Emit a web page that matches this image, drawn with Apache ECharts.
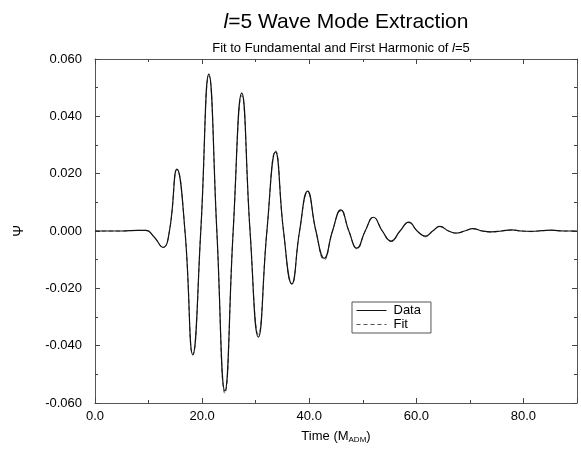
<!DOCTYPE html>
<html>
<head>
<meta charset="utf-8">
<script src="https://cdn.jsdelivr.net/npm/echarts@6/dist/echarts.min.js"></script>
<style>html,body{margin:0;padding:0;background:#fff}#c{width:581px;height:449px}</style>
</head>
<body>
<div id="c"></div>
<script>
// Time samples (M_ADM)
const time = [0, 5, 8, 9.5, 11, 12.7, 13.9, 15.3, 16.8, 18.25, 19.75, 21.25, 22.75, 24.25, 25.8, 27.4, 28.95, 30.5, 32.1, 33.7, 35.2, 36.75, 38.2, 39.7, 41.25, 42.8, 44.35, 45.9, 47.4, 48.9, 50.45, 52.0, 53.65, 55.3, 56.95, 58.6, 60.15, 61.7, 63.05, 64.4, 66.0, 67.5, 69.0, 70.6, 72.3, 74.0, 75.9, 77.8, 79.6, 81.5, 83.4, 85.3, 87.5, 90];
// Psi, numerical data
const dataVals = [0, 0, 0.0002, 0.0002, -0.002, -0.0057, 0, 0.0216, 0, -0.0431, 0, 0.0547, 0, -0.0558, 0, 0.0481, 0, -0.0370, 0, 0.0276, 0, -0.0184, 0, 0.0139, 0, -0.0095, 0, 0.0074, 0, -0.0060, 0, 0.0048, 0, -0.0035, 0, 0.0031, 0, -0.0018, 0, 0.0016, 0, -0.0007, 0, 0.0008, 0, -0.0003, 0, 0.0004, 0, -0.0001, 0.0001, 0.0003, 0, 0];
// Psi, fitted modes
const fitVals = [0, 0, 0.0002, 0.0002, -0.002, -0.0057, 0, 0.0214, 0, -0.0433, 0, 0.0541, 0, -0.0566, 0, 0.0472, 0, -0.0360, 0, 0.0280, 0, -0.0186, 0, 0.0134, 0, -0.0101, 0, 0.0070, 0, -0.0062, 0, 0.0047, 0, -0.0037, 0, 0.0029, 0, -0.0020, 0, 0.0015, 0, -0.0008, 0, 0.0007, 0, -0.0004, 0, 0.0003, 0, -0.0002, 0.0001, 0.0002, 0, 0];
const xTicks = [0, 20, 40, 60, 80];
const yTicks = [-0.06, -0.04, -0.02, 0, 0.02, 0.04, 0.06];

const FONT = 'Liberation Sans, Arial, Helvetica, sans-serif';
const chart = echarts.init(document.getElementById('c'), null, {renderer: 'canvas'});
const axisLine = {show: true, onZero: false, lineStyle: {color: '#555', width: 1}};
const xBase = {
  type: 'value', min: 0, max: 90, interval: 20,
  axisLine: axisLine,
  axisTick: {show: true, inside: true, length: 5, lineStyle: {color: '#444'}},
  minorTick: {show: true, splitNumber: 2, length: 3, lineStyle: {color: '#444'}},
  splitLine: {show: false}
};
const yBase = {
  type: 'value', min: -0.06, max: 0.06, interval: 0.02,
  axisLine: axisLine,
  axisTick: {show: true, inside: true, length: 5, lineStyle: {color: '#444'}},
  minorTick: {show: true, splitNumber: 2, length: 3, lineStyle: {color: '#444'}},
  splitLine: {show: false}
};
const pairs = (ys) => time.map((t, i) => [t, ys[i]]);

chart.setOption({
  animation: false,
  backgroundColor: '#fff',
  textStyle: {fontFamily: FONT},
  title: [
    {
      text: '{i|l}{n|=5 Wave Mode Extraction}',
      left: 341, top: 7, textAlign: 'center',
      textStyle: {fontWeight: 'normal', rich: {
        i: {fontFamily: FONT, fontStyle: 'italic', fontWeight: 'normal', fontSize: 21, color: '#000'},
        n: {fontFamily: FONT, fontWeight: 'normal', fontSize: 21, color: '#000'}
      }}
    },
    {
      text: '{n|Fit to Fundamental and First Harmonic of }{i|l}{n|=5}',
      left: 336, top: 37, textAlign: 'center',
      textStyle: {fontWeight: 'normal', rich: {
        i: {fontFamily: FONT, fontStyle: 'italic', fontWeight: 'normal', fontSize: 13, color: '#000'},
        n: {fontFamily: FONT, fontWeight: 'normal', fontSize: 13, color: '#000'}
      }}
    }
  ],
  grid: {left: 95, right: 4, top: 59, bottom: 40, containLabel: false},
  legend: {
    left: 352, top: 302, orient: 'vertical',
    backgroundColor: '#fff', borderColor: '#555', borderWidth: 1,
    padding: [2, 10, 2, 4], itemGap: 1, itemWidth: 30, itemHeight: 14,
    itemStyle: {opacity: 0},
    lineStyle: {width: 1},
    textStyle: {fontFamily: FONT, fontSize: 13, color: '#000', padding: [0, 0, 0, 2]},
    data: ['Data', 'Fit']
  },
  xAxis: [
    Object.assign({}, xBase, {
      position: 'bottom',
      axisLabel: {show: true, color: '#000', fontSize: 13, fontFamily: FONT, margin: 7,
        formatter: v => xTicks.includes(v) ? v.toFixed(1) : ''},
      name: '{n|Time (M}{s|ADM}{n|)}', nameLocation: 'middle', nameGap: 26,
      nameTextStyle: {rich: {
        n: {fontFamily: FONT, fontSize: 13, color: '#000'},
        s: {fontFamily: FONT, fontSize: 8, color: '#000', padding: [7, 0, 0, 0]}
      }}
    }),
    Object.assign({}, xBase, {position: 'top', axisLabel: {show: false}})
  ],
  yAxis: [
    Object.assign({}, yBase, {
      position: 'left',
      axisLabel: {show: true, color: '#000', fontSize: 13, fontFamily: FONT, margin: 13,
        formatter: v => {
          const r = Math.round(v * 1000) / 1000;
          return yTicks.some(t => Math.abs(t - r) < 1e-9) ? (r === 0 ? '0.000' : r.toFixed(3)) : '';
        }},
      name: 'Ψ', nameLocation: 'middle', nameGap: 69, nameRotate: 90,
      nameTextStyle: {fontFamily: FONT, fontSize: 14, color: '#000'}
    }),
    Object.assign({}, yBase, {position: 'right', axisLabel: {show: false}})
  ],
  series: [
    {
      name: 'Data', type: 'line', data: pairs(dataVals), smooth: 0.5,
      showSymbol: false, symbol: 'none',
      lineStyle: {color: '#111', width: 1.2, type: 'solid'}, itemStyle: {color: '#111'}, z: 3
    },
    {
      name: 'Fit', type: 'line', data: pairs(fitVals), smooth: 0.5,
      showSymbol: false, symbol: 'none',
      lineStyle: {color: '#555', width: 1, type: [4, 3]}, itemStyle: {color: '#555'}, z: 2
    }
  ]
});
</script>
</body>
</html>
